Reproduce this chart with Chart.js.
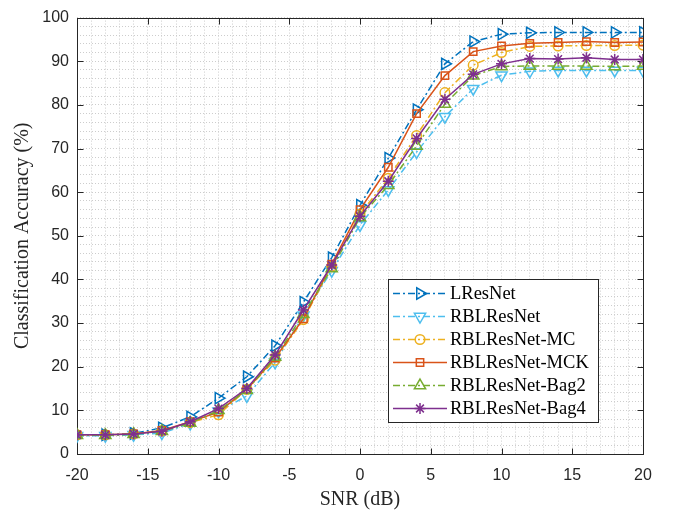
<!DOCTYPE html>
<html><head><meta charset="utf-8">
<script src="https://cdn.jsdelivr.net/npm/chart.js@4.4.1/dist/chart.umd.min.js"></script>
<style>html,body{margin:0;padding:0;background:#fff;}#wrap{width:677px;height:514px;}</style>
</head><body><div id="wrap"><canvas id="c" width="677" height="514"></canvas></div>
<script>
const snr = [-20,-18,-16,-14,-12,-10,-8,-6,-4,-2,0,2,4,6,8,10,12,14,16,18,20];
const lresnet       = [4.4,4.4,4.7,6.0,8.5,12.8,17.7,24.8,34.8,45.0,57.0,67.8,78.9,89.4,94.5,96.2,96.5,96.6,96.6,96.6,96.6];
const rblresnet     = [4.2,4.2,4.4,4.8,7.0,9.8,13.3,21.0,31.8,42.0,52.5,60.5,69.2,77.3,83.7,86.8,87.7,87.9,87.9,87.9,87.9];
const rblresnetMC   = [4.4,4.4,4.6,5.3,7.2,9.0,14.8,21.5,30.8,43.0,55.0,63.2,73.0,82.8,89.1,92.0,93.4,93.5,93.6,93.6,93.7];
const rblresnetMCK  = [4.4,4.4,4.6,5.4,7.4,9.6,14.8,22.0,31.0,43.5,56.0,65.7,78.0,86.7,92.2,93.5,94.1,94.3,94.5,94.3,94.4];
const rblresnetBag2 = [4.3,4.3,4.5,5.2,7.1,10.0,14.6,22.2,32.0,42.5,54.2,61.6,70.6,80.2,86.7,88.8,88.9,88.9,88.9,88.8,88.9];
const rblresnetBag4 = [4.4,4.4,4.6,5.2,7.4,10.4,15.0,22.7,33.0,43.3,54.5,62.5,72.3,81.3,87.0,89.4,90.6,90.5,90.8,90.4,90.4];
const seriesLabels = ['LResNet','RBLResNet','RBLResNet-MC','RBLResNet-MCK','RBLResNet-Bag2','RBLResNet-Bag4'];
const seriesValues = [lresnet, rblresnet, rblresnetMC, rblresnetMCK, rblresnetBag2, rblresnetBag4];
const xTickLabels = [-20,-15,-10,-5,0,5,10,15,20];
const yTickLabels = [0,10,20,30,40,50,60,70,80,90,100];
const xTitle = 'SNR (dB)';
const yTitle = 'Classification Accuracy (%)';

const DD = [7,3,2,3];
const styles = [
  {color:'#0072BD', dash:DD, marker:'triangle', rot:90,  r:6.5},
  {color:'#4DBEEE', dash:DD, marker:'triangle', rot:180, r:6.5},
  {color:'#EDB120', dash:DD, marker:'circle',   rot:0,   r:4.8},
  {color:'#D95319', dash:[], marker:'rect',     rot:0,   r:5.2},
  {color:'#77AC30', dash:DD, marker:'triangle', rot:0,   r:6.5},
  {color:'#7E2F8E', dash:[], marker:'star',     rot:0,   r:5.5}
];
const AXC = '#262626';
const GRIDC = '#cdcdcd';

const datasets = seriesLabels.map((lab, i) => ({
  label: lab,
  data: snr.map((x, j) => ({x: x, y: seriesValues[i][j]})),
  borderColor: styles[i].color,
  backgroundColor: 'rgba(0,0,0,0)',
  borderWidth: 1.5,
  borderDash: styles[i].dash,
  pointStyle: styles[i].marker,
  pointRotation: styles[i].rot,
  pointRadius: styles[i].r,
  pointBorderWidth: 1.5,
  pointBorderColor: styles[i].color,
  pointBackgroundColor: 'rgba(0,0,0,0)',
  tension: 0,
  fill: false,
  order: seriesLabels.length - i
}));

function drawMarker(ctx, st, x, y) {
  const r = st.r;
  ctx.save();
  ctx.setLineDash([]);
  ctx.strokeStyle = st.color;
  ctx.lineWidth = 1.5;
  ctx.beginPath();
  if (st.marker === 'triangle') {
    let rad = st.rot * Math.PI / 180;
    ctx.moveTo(x + Math.sin(rad) * r, y - Math.cos(rad) * r);
    rad += 2 * Math.PI / 3;
    ctx.lineTo(x + Math.sin(rad) * r, y - Math.cos(rad) * r);
    rad += 2 * Math.PI / 3;
    ctx.lineTo(x + Math.sin(rad) * r, y - Math.cos(rad) * r);
    ctx.closePath();
  } else if (st.marker === 'circle') {
    ctx.arc(x, y, r, 0, Math.PI * 2);
  } else if (st.marker === 'rect') {
    const s = Math.SQRT1_2 * r;
    ctx.rect(x - s, y - s, 2 * s, 2 * s);
  } else if (st.marker === 'star') {
    for (let k = 0; k < 4; k++) {
      const a = k * Math.PI / 4;
      ctx.moveTo(x - Math.cos(a) * r, y - Math.sin(a) * r);
      ctx.lineTo(x + Math.cos(a) * r, y + Math.sin(a) * r);
    }
  }
  ctx.stroke();
  ctx.restore();
}

const framePlugin = {
  id: 'frame',
  beforeDatasetsDraw(chart) {
    const {ctx, chartArea: a, scales} = chart;
    ctx.save();
    ctx.strokeStyle = AXC;
    ctx.lineWidth = 1;
    ctx.setLineDash([]);
    const L = Math.round(a.left) + 0.5, R = Math.round(a.right) + 0.5;
    const T = Math.round(a.top) + 0.5, B = Math.round(a.bottom) + 0.5;
    ctx.strokeRect(L, T, R - L, B - T);
    const tl = 6;
    ctx.beginPath();
    xTickLabels.forEach(v => {
      const px = Math.round(scales.x.getPixelForValue(v)) + 0.5;
      ctx.moveTo(px, B); ctx.lineTo(px, B - tl);
      ctx.moveTo(px, T); ctx.lineTo(px, T + tl);
    });
    yTickLabels.forEach(v => {
      const py = Math.round(scales.y.getPixelForValue(v)) + 0.5;
      ctx.moveTo(L, py); ctx.lineTo(L + tl, py);
      ctx.moveTo(R, py); ctx.lineTo(R - tl, py);
    });
    ctx.stroke();
    ctx.restore();
  },
  afterDraw(chart) {
    const {ctx} = chart;
    const bx = 388.5, by = 279.5, bw = 210, bh = 143;
    ctx.save();
    ctx.fillStyle = '#ffffff';
    ctx.fillRect(bx, by, bw, bh);
    ctx.strokeStyle = AXC;
    ctx.lineWidth = 1;
    ctx.setLineDash([]);
    ctx.strokeRect(bx, by, bw, bh);
    ctx.font = '18.5px "Liberation Serif", "Times New Roman", serif';
    ctx.textBaseline = 'middle';
    ctx.textAlign = 'left';
    ctx.fillStyle = '#000000';
    chart.data.datasets.forEach((ds, i) => {
      const st = styles[i];
      const y = 293.5 + i * 23;
      ctx.save();
      ctx.strokeStyle = st.color;
      ctx.lineWidth = 1.5;
      ctx.setLineDash(st.dash);
      ctx.beginPath();
      ctx.moveTo(393, y); ctx.lineTo(447, y);
      ctx.stroke();
      ctx.restore();
      drawMarker(ctx, st, 420, y);
      ctx.fillText(ds.label, 450, y + 1);
    });
    ctx.restore();
  }
};

new Chart(document.getElementById('c'), {
  type: 'line',
  data: {datasets: datasets},
  plugins: [framePlugin],
  options: {
    responsive: false,
    animation: false,
    devicePixelRatio: 1,
    layout: {padding: {top: 9, right: 34, left: 0, bottom: 0}},
    plugins: {legend: {display: false}, tooltip: {enabled: false}},
    scales: {
      x: {
        type: 'linear', min: -20, max: 20,
        afterFit: s => { s.height = 60; },
        ticks: {
          stepSize: 1, autoSkip: false, maxTicksLimit: 200, maxRotation: 0, minRotation: 0,
          callback: v => xTickLabels.includes(v) ? String(v) : '',
          font: {family: '"Liberation Sans", Arial, sans-serif', size: 16},
          color: AXC, padding: 12
        },
        grid: {color: GRIDC, lineWidth: 1, drawTicks: false},
        border: {display: false, dash: [1, 2]},
        title: {display: true, text: xTitle, color: '#262626',
          font: {family: '"Liberation Serif", "Times New Roman", serif', size: 20},
          padding: {top: 0, bottom: 2}}
      },
      y: {
        type: 'linear', min: 0, max: 100,
        afterFit: s => { s.width = 77; },
        ticks: {
          stepSize: 2, autoSkip: false, maxTicksLimit: 200,
          callback: v => yTickLabels.includes(v) ? String(v) : '',
          font: {family: '"Liberation Sans", Arial, sans-serif', size: 16},
          color: AXC, padding: 8
        },
        grid: {color: GRIDC, lineWidth: 1, drawTicks: false},
        border: {display: false, dash: [1, 2]},
        title: {display: true, text: yTitle, color: '#262626',
          font: {family: '"Liberation Serif", "Times New Roman", serif', size: 20},
          padding: {top: 11, bottom: 0}}
      }
    }
  }
});
</script></body></html>
